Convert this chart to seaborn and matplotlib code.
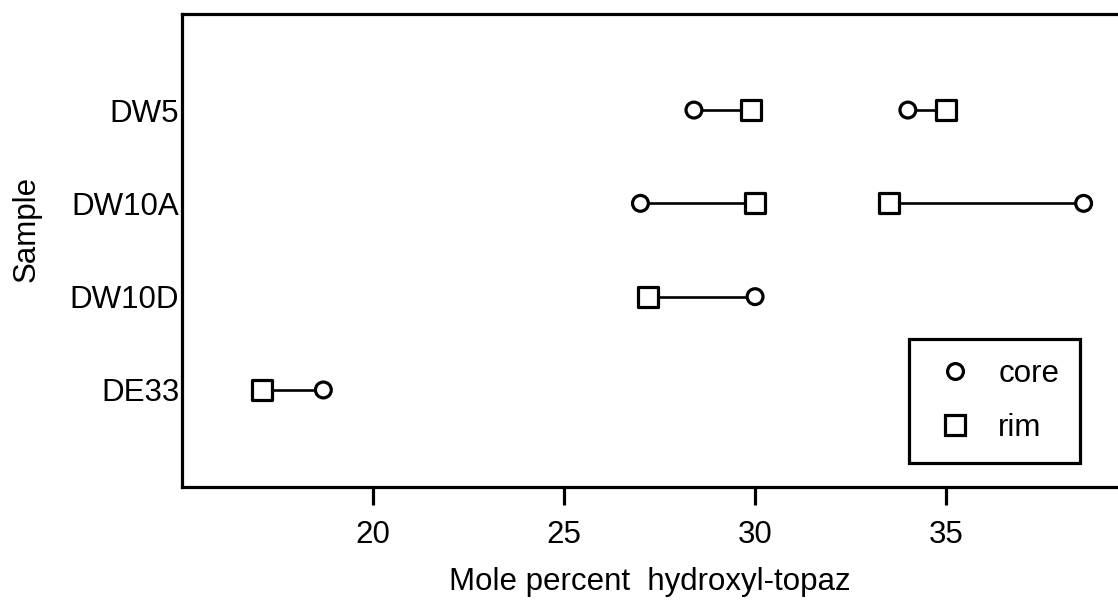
import pandas as pd
import seaborn as sns
import matplotlib.pyplot as plt

# values (mole % hydroxyl-topaz)
samples = ['DW5', 'DW5', 'DW10A', 'DW10A', 'DW10D', 'DE33']
core = [28.4, 34.0, 27.0, 38.6, 30.0, 18.7]
rim = [29.9, 35.0, 30.0, 33.5, 27.2, 17.1]
sample_order = ['DW5', 'DW10A', 'DW10D', 'DE33']
xticks = [20, 25, 30, 35]

rows = []
for i, (s, c, r) in enumerate(zip(samples, core, rim)):
    pos = sample_order.index(s) + 1
    rows.append({'pair': i, 'Sample': s, 'pos': pos, 'value': c, 'kind': 'core'})
    rows.append({'pair': i, 'Sample': s, 'pos': pos, 'value': r, 'kind': 'rim'})
df = pd.DataFrame(rows)

sns.set_style('white')
plt.rcParams['font.family'] = ['Liberation Sans', 'DejaVu Sans']
plt.rcParams['text.color'] = 'black'
plt.rcParams['axes.labelcolor'] = 'black'
plt.rcParams['xtick.color'] = 'black'
plt.rcParams['ytick.color'] = 'black'

fig = plt.figure(figsize=(11.18, 6.07), dpi=100)
ax = fig.add_axes([0.1628, 0.1977, 0.8372, 0.7793])

# connecting lines between core and rim
sns.lineplot(data=df, x='value', y='pos', units='pair', estimator=None, sort=False,
             color='black', linewidth=1.9, legend=False, ax=ax)

# markers
sizes = {'core': 130, 'rim': 205}
sns.scatterplot(data=df, x='value', y='pos', style='kind', size='kind',
                markers={'core': 'o', 'rim': 's'}, sizes=sizes,
                color='white', edgecolor='black', linewidth=2.3, zorder=3, ax=ax)

ax.set_xlim(15, 39.5)
ax.set_ylim(5.04, -0.03)
ax.set_xticks(xticks)
ax.set_yticks(range(1, len(sample_order) + 1))
ax.set_yticklabels(sample_order)

for side in ['left', 'top', 'bottom']:
    ax.spines[side].set_linewidth(2.3)
    ax.spines[side].set_color('black')
ax.spines['right'].set_visible(False)

ax.tick_params(axis='x', direction='out', length=13, width=2.3, color='black',
               labelsize=22.5, pad=11, bottom=True)
ax.tick_params(axis='y', length=0, labelsize=22.5, pad=2)

ax.set_xlabel('Mole percent  hydroxyl-topaz', fontsize=22.5, labelpad=12)
ax.set_ylabel('Sample', fontsize=22.5)
ax.yaxis.set_label_coords(-0.15, 0.545)

handles, labels = ax.get_legend_handles_labels()
for h, lab in zip(handles, labels):
    h.set_markerfacecolor('white')
    h.set_markeredgecolor('black')
    h.set_markeredgewidth(2.3)
    h.set_markersize(sizes[lab] ** 0.5)
    h.set_color('black')
leg = ax.legend(handles, labels, loc='lower right', bbox_to_anchor=(0.959, 0.051),
                fontsize=22.5, frameon=True, fancybox=False, edgecolor='black',
                framealpha=1, borderpad=0.65, labelspacing=0.75, handletextpad=0.6,
                handlelength=1.6, borderaxespad=0)
leg.get_frame().set_linewidth(2.3)

fig.savefig('out.png', dpi=100)
